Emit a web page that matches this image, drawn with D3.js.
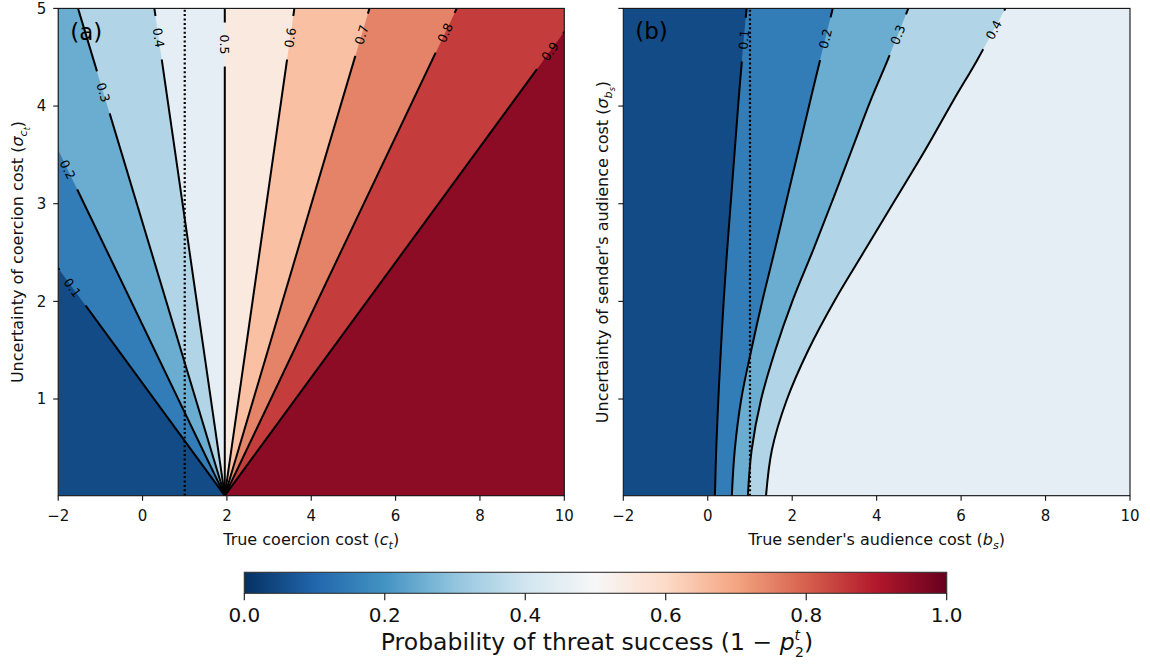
<!DOCTYPE html>
<html>
<head>
<meta charset="utf-8">
<script src="https://cdn.jsdelivr.net/npm/d3@7"></script>
<style>
  body { margin: 0; background: #fff; }
  svg { display: block; font-family: "DejaVu Sans", sans-serif; }
</style>
</head>
<body>
<div id="chart"></div>
<script>
// contour levels shared by both panels
const levels = [0.1, 0.2, 0.3, 0.4, 0.5, 0.6, 0.7, 0.8, 0.9];
// RdBu_r anchor colours (matplotlib segment data), 0 -> 1
const rdbuStops = ['#053061', '#2166ac', '#4393c3', '#92c5de', '#d1e5f0', '#f7f7f7',
                   '#fddbc7', '#f4a582', '#d6604d', '#b2182b', '#67001f'];
const xTicks = [-2, 0, 2, 4, 6, 8, 10];
const yTicks = [1, 2, 3, 4, 5];
const cbTicks = [0, 0.2, 0.4, 0.6, 0.8, 1.0];

// panel (a): straight contours from the apex to where they leave the frame
const apexA = [1.95, 0.01];
const exitCA = [-2, -2, -1.53, 0.28, 1.95, 3.60, 5.38, 7.45, 10];
const exitSA = [2.34, 3.55, 5, 5, 5, 5, 5, 5, 4.76];
const labelSA = [2.14, 3.35, 4.14, 4.70, 4.63, 4.70, 4.73, 4.75, 4.56];

// panel (b): contour x positions read at these sigma values
const sigmaB = [0.01, 0.48, 0.99, 1.50, 2.02, 2.53, 3.04, 3.55, 4.06, 4.47, 5];
const contourB = [
  [0.17, 0.20, 0.25, 0.31, 0.38, 0.46, 0.55, 0.64, 0.73, 0.81, 0.92],
  [0.57, 0.64, 0.79, 1.03, 1.30, 1.59, 1.87, 2.15, 2.43, 2.66, 2.96],
  [0.95, 1.04, 1.26, 1.60, 2.02, 2.50, 2.96, 3.41, 3.86, 4.26, 4.75],
  [1.38, 1.52, 1.87, 2.38, 3.02, 3.73, 4.44, 5.15, 5.82, 6.38, 7.05]
];
const labelSB = [4.68, 4.69, 4.73, 4.78];

const W = 1150, H = 664;
const svg = d3.select('#chart').append('svg').attr('width', W).attr('height', H);
const defs = svg.append('defs');

const cmap = d3.scaleLinear()
  .domain(rdbuStops.map((_, i) => i / (rdbuStops.length - 1)))
  .range(rdbuStops);
const bandColor = k => cmap((k + 0.5) / 10);
const fmt = d3.format('.1f');

function drawPanel(opt) {
  const { id, x, y, lines, labelS, tag, tagY, showYLabels } = opt;
  const [x0, x1] = x.domain(), [s0, s1] = y.domain();
  const left = x.range()[0], right = x.range()[1];
  const top = y.range()[1], bottom = y.range()[0];

  defs.append('clipPath').attr('id', 'clip-' + id).append('rect')
    .attr('x', left).attr('y', top).attr('width', right - left).attr('height', bottom - top);

  const plot = svg.append('g').attr('clip-path', `url(#clip-${id})`);
  plot.append('rect')
    .attr('x', left).attr('y', top).attr('width', right - left).attr('height', bottom - top)
    .attr('fill', bandColor(0));

  const curve = d3.line().x(d => x(d[0])).y(d => y(d[1])).curve(d3.curveCatmullRom.alpha(0.5));

  // position along the frame, clockwise from bottom-left
  const Hh = s1 - s0, Ww = x1 - x0, eps = 1e-9;
  const perim = ([c, s]) => {
    if (Math.abs(c - x0) < eps) return s - s0;
    if (Math.abs(s - s1) < eps) return Hh + (c - x0);
    if (Math.abs(c - x1) < eps) return Hh + Ww + (s1 - s);
    return 2 * Hh + Ww + (x1 - c);
  };
  const corners = [[x0, s1, Hh], [x1, s1, Hh + Ww], [x1, s0, 2 * Hh + Ww]];

  // fill region above each level with the next band colour
  lines.forEach((pts, k) => {
    const tEnd = perim(pts[pts.length - 1]), tStart = perim(pts[0]);
    const extra = corners.filter(cn => cn[2] > tEnd && cn[2] < tStart);
    const d = curve(pts) + extra.map(cn => `L${x(cn[0])},${y(cn[1])}`).join('') + 'Z';
    plot.append('path').attr('d', d).attr('fill', bandColor(k + 1));
  });

  // dotted reference at x = 1
  plot.append('line')
    .attr('x1', x(1)).attr('x2', x(1)).attr('y1', bottom).attr('y2', top)
    .attr('stroke', '#000').attr('stroke-width', 2.2).attr('stroke-dasharray', '2,2.4');

  // contour lines with gaps for inline labels
  const mask = defs.append('mask').attr('id', 'mask-' + id)
    .attr('maskUnits', 'userSpaceOnUse').attr('x', 0).attr('y', 0).attr('width', W).attr('height', H);
  mask.append('rect').attr('width', W).attr('height', H).attr('fill', 'white');
  const lineG = plot.append('g').attr('mask', `url(#mask-${id})`);

  lines.forEach((pts, k) => {
    lineG.append('path').attr('d', curve(pts))
      .attr('fill', 'none').attr('stroke', '#000').attr('stroke-width', 2);

    const s = labelS[k];
    let i = 0;
    while (i < pts.length - 2 && pts[i + 1][1] < s) i++;
    const a = pts[i], b = pts[i + 1];
    const f = (s - a[1]) / (b[1] - a[1]);
    const px = x(a[0] + f * (b[0] - a[0])), py = y(s);
    let ang = Math.atan2(y(b[1]) - y(a[1]), x(b[0]) - x(a[0])) * 180 / Math.PI;
    if (ang <= -90) ang += 180; else if (ang > 90) ang -= 180;

    mask.append('rect').attr('x', -22).attr('y', -9).attr('width', 44).attr('height', 18)
      .attr('fill', 'black').attr('transform', `translate(${px},${py}) rotate(${ang})`);
    svg.append('text')
      .attr('transform', `translate(${px},${py}) rotate(${ang})`)
      .attr('text-anchor', 'middle').attr('dy', '0.36em')
      .attr('font-size', 12.5).attr('fill', '#000')
      .text(fmt(levels[k]));
  });

  // frame
  svg.append('rect')
    .attr('x', left).attr('y', top).attr('width', right - left).attr('height', bottom - top)
    .attr('fill', 'none').attr('stroke', '#111').attr('stroke-width', 1.1);

  // x axis
  const xa = svg.append('g');
  xTicks.forEach(t => {
    xa.append('line').attr('x1', x(t)).attr('x2', x(t)).attr('y1', bottom).attr('y2', bottom + 5)
      .attr('stroke', '#111').attr('stroke-width', 1.1);
    xa.append('text').attr('x', x(t)).attr('y', bottom + 25.5)
      .attr('text-anchor', 'middle').attr('font-size', 15).attr('fill', '#111')
      .text(d3.format('d')(t).replace('-', '\u2212'));
  });

  // y axis
  const ya = svg.append('g');
  yTicks.forEach(t => {
    ya.append('line').attr('x1', left - 5).attr('x2', left).attr('y1', y(t)).attr('y2', y(t))
      .attr('stroke', '#111').attr('stroke-width', 1.1);
    if (showYLabels) {
      ya.append('text').attr('x', left - 12).attr('y', y(t)).attr('dy', '0.36em')
        .attr('text-anchor', 'end').attr('font-size', 15).attr('fill', '#111')
        .text(t);
    }
  });

  // panel tag
  svg.append('text').attr('x', left + 12).attr('y', tagY)
    .attr('font-size', 23).attr('fill', '#000').text(tag);
}

function mathLabel(sel, pre, sym, sub, subsub) {
  sel.append('tspan').text(pre);
  sel.append('tspan').attr('font-style', 'italic').text(sym);
  sel.append('tspan').attr('font-style', 'italic').attr('font-size', '0.7em').attr('dy', 4).text(sub);
  let back = -4;
  if (subsub) {
    sel.append('tspan').attr('font-style', 'italic').attr('font-size', '0.5em').attr('dy', 2.5).text(subsub);
    back = -6.5;
  }
  sel.append('tspan').attr('dy', back).text(')');
}

const xA = d3.scaleLinear().domain([-2, 10]).range([58.2, 564.3]);
const xB = d3.scaleLinear().domain([-2, 10]).range([623.3, 1130]);
const yS = d3.scaleLinear().domain([0.01, 5]).range([495.7, 8.4]);

const linesA = levels.map((l, k) => [apexA, [exitCA[k], exitSA[k]]]);
const linesB = contourB.map(xs => xs.map((c, i) => [c, sigmaB[i]]));

drawPanel({ id: 'a', x: xA, y: yS, lines: linesA, labelS: labelSA, tag: '(a)', tagY: 40, showYLabels: true });
drawPanel({ id: 'b', x: xB, y: yS, lines: linesB, labelS: labelSB, tag: '(b)', tagY: 38.5, showYLabels: false });

// axis titles
mathLabel(svg.append('text').attr('x', 311.2).attr('y', 545).attr('text-anchor', 'middle')
  .attr('font-size', 16).attr('fill', '#111'), 'True coercion cost (', 'c', 't');
mathLabel(svg.append('text').attr('x', 876.6).attr('y', 545).attr('text-anchor', 'middle')
  .attr('font-size', 16).attr('fill', '#111'), "True sender's audience cost (", 'b', 's');
mathLabel(svg.append('text').attr('transform', 'translate(23,252) rotate(-90)').attr('text-anchor', 'middle')
  .attr('font-size', 16).attr('fill', '#111'), 'Uncertainty of coercion cost (', '\u03c3', 'c', 't');
mathLabel(svg.append('text').attr('transform', 'translate(608,252) rotate(-90)').attr('text-anchor', 'middle')
  .attr('font-size', 16).attr('fill', '#111'), "Uncertainty of sender's audience cost (", '\u03c3', 'b', 's');

// colorbar
const cb = d3.scaleLinear().domain([0, 1]).range([244.3, 946.7]);
const grad = defs.append('linearGradient').attr('id', 'cbgrad')
  .attr('x1', '0%').attr('x2', '100%').attr('y1', '0%').attr('y2', '0%');
rdbuStops.forEach((c, i) => grad.append('stop')
  .attr('offset', `${i * 10}%`).attr('stop-color', c));
const cbTop = 572.3, cbH = 21;
svg.append('rect').attr('x', cb(0)).attr('y', cbTop).attr('width', cb(1) - cb(0)).attr('height', cbH)
  .attr('fill', 'url(#cbgrad)').attr('stroke', '#333').attr('stroke-width', 1.1);
cbTicks.forEach(t => {
  svg.append('line').attr('x1', cb(t)).attr('x2', cb(t)).attr('y1', cbTop + cbH).attr('y2', cbTop + cbH + 7)
    .attr('stroke', '#111').attr('stroke-width', 1.1);
  svg.append('text').attr('x', cb(t)).attr('y', 621.7).attr('text-anchor', 'middle')
    .attr('font-size', 20).attr('fill', '#111').text(fmt(t));
});
const cbl = svg.append('text').attr('x', 597).attr('y', 650).attr('text-anchor', 'middle')
  .attr('font-size', 23.5).attr('fill', '#111');
cbl.append('tspan').text('Probability of threat success (1 \u2212 ');
cbl.append('tspan').attr('font-style', 'italic').text('p');
cbl.append('tspan').attr('font-style', 'italic').attr('font-size', 14).attr('dy', -10).text('t');
cbl.append('tspan').attr('font-size', 14).attr('dx', -5).attr('dy', 16.5).text('2');
cbl.append('tspan').attr('dy', -6.5).text(')');
</script>
</body>
</html>
